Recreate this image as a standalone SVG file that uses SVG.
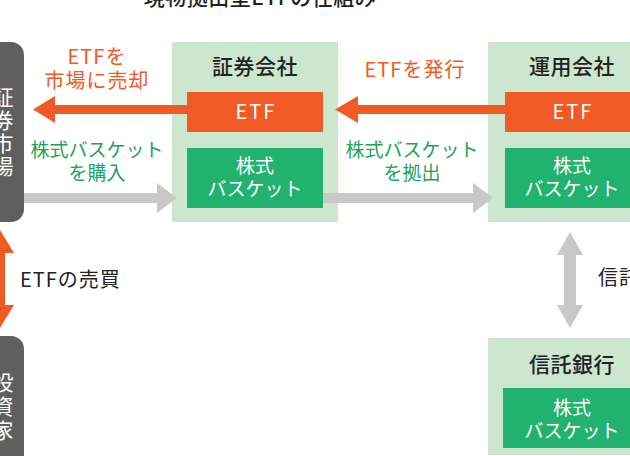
<svg xmlns="http://www.w3.org/2000/svg" width="630" height="456" viewBox="0 0 630 456">
<style>
text{font-family:"Noto Sans CJK JP","Noto Sans",sans-serif;font-weight:400}
.cont{fill:#cde7cf}
.etf{fill:#f15a24}
.stock{fill:#22b26f}
.dark{fill:#5f5f5f}
.oarr{fill:#f15a24}
.garr{fill:#c8c8c8}
.title{font-size:21px;fill:#222;text-anchor:middle;letter-spacing:0.5px;font-weight:500}
.wt{font-size:19px;fill:#fff;text-anchor:middle}
.et{font-size:20px;fill:#fff;text-anchor:middle;letter-spacing:2px}
.vt{font-size:21px;fill:#fff;text-anchor:middle}
.ot{font-size:20px;fill:#f15a24;text-anchor:middle;letter-spacing:1px}
.gt{font-size:19px;fill:#1fa25a;text-anchor:middle}
.bt{font-size:20px;fill:#222;letter-spacing:1px}
</style>
<text class="title" x="260" y="5">現物拠出型ETFの仕組み</text>

<g id="market">
<rect class="dark" x="-40" y="42" width="64" height="180" rx="13"/>
<text class="vt" x="3" y="105">証</text>
<text class="vt" x="3" y="128">券</text>
<text class="vt" x="3" y="151">市</text>
<text class="vt" x="3" y="174">場</text>
</g>

<g id="investor">
<rect class="dark" x="-40" y="336" width="64" height="150" rx="13"/>
<text class="vt" x="3" y="390">投</text>
<text class="vt" x="3" y="414">資</text>
<text class="vt" x="3" y="438">家</text>
</g>

<g id="securities">
<rect class="cont" x="172" y="42" width="166" height="180"/>
<text class="title" x="255" y="74">証券会社</text>
<rect class="etf" x="187" y="92" width="136" height="40"/>
<text class="et" x="256" y="119">ETF</text>
<rect class="stock" x="187" y="148" width="136" height="60"/>
<text class="wt" x="255" y="173">株式</text>
<text class="wt" x="255" y="196">バスケット</text>
</g>

<g id="management">
<rect class="cont" x="488" y="42" width="168" height="180"/>
<text class="title" x="572" y="74">運用会社</text>
<rect class="etf" x="505" y="92" width="136" height="40"/>
<text class="et" x="573" y="119">ETF</text>
<rect class="stock" x="505" y="148" width="136" height="60"/>
<text class="wt" x="572" y="173">株式</text>
<text class="wt" x="572" y="196">バスケット</text>
</g>

<g id="trustbank">
<rect class="cont" x="488" y="338" width="168" height="117"/>
<text class="title" x="572" y="372">信託銀行</text>
<rect class="stock" x="503" y="388" width="138" height="60"/>
<text class="wt" x="572" y="415">株式</text>
<text class="wt" x="572" y="438">バスケット</text>
</g>

<g id="connectors">
<polygon class="oarr" points="187,105 55,105 55,96 33,109.5 55,123 55,114 187,114"/>
<polygon class="oarr" points="505,105 358,105 358,96 335,109.5 358,123 358,114 505,114"/>
<polygon class="garr" points="24,193 157,193 157,183 177,198 157,213 157,203 24,203"/>
<polygon class="garr" points="323,193 473,193 473,183 493,198 473,213 473,203 323,203"/>
<polygon class="oarr" points="0,230 14,253 5,253 5,305 14,305 0,328 -14,305 -5,305 -5,253 -14,253"/>
<polygon class="garr" points="570,232 583,255 576,255 576,305 583,305 570,328 557,305 564,305 564,255 557,255"/>
</g>

<g id="labels">
<text class="ot" x="97" y="64">ETFを</text>
<text class="ot" x="97" y="88">市場に売却</text>
<text class="ot" x="415" y="77">ETFを発行</text>
<text class="gt" x="97" y="157">株式バスケット</text>
<text class="gt" x="97" y="180">を購入</text>
<text class="gt" x="412" y="157">株式バスケット</text>
<text class="gt" x="412" y="180">を拠出</text>
<text class="bt" x="20" y="287">ETFの売買</text>
<text class="bt" x="598" y="285">信託</text>
</g>
</svg>
